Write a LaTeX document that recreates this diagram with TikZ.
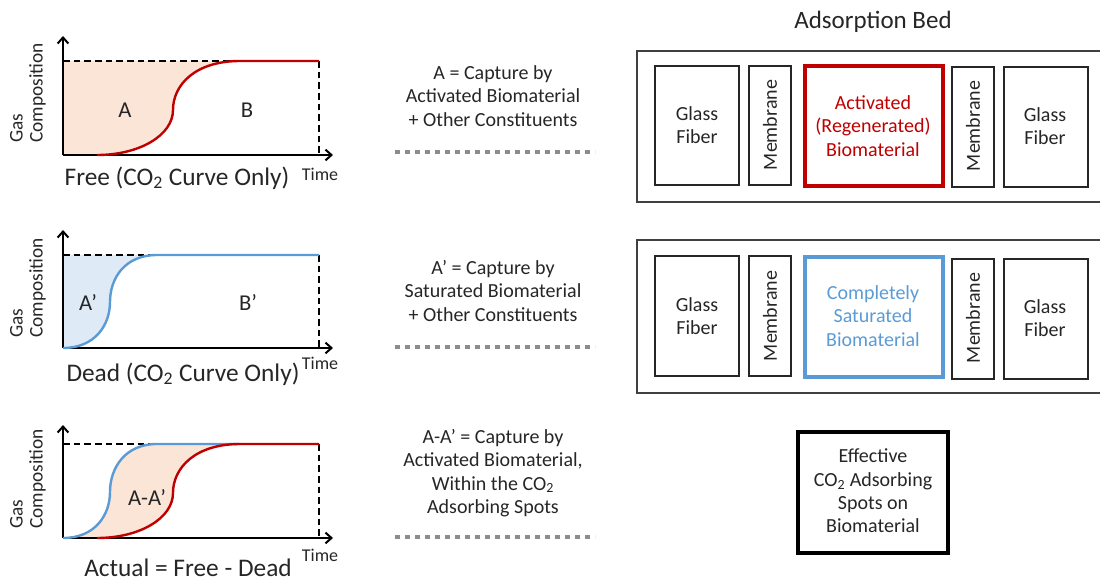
\documentclass[tikz,border=0pt]{standalone}
\usepackage{fontspec}
\setmainfont{Carlito}
\usetikzlibrary{arrows.meta}

\definecolor{freered}{RGB}{192,0,0}
\definecolor{deadblue}{RGB}{91,155,213}
\definecolor{freefill}{RGB}{251,229,214}
\definecolor{deadfill}{RGB}{222,235,247}
\definecolor{dotgray}{RGB}{140,140,140}
\definecolor{ink}{RGB}{38,38,38}

\begin{document}
\begin{tikzpicture}[x=0.75pt,y=0.75pt,yscale=-1,xscale=1,
	axis/.style={line width=1.5pt, -{Straight Barb[length=4.5pt,width=8pt,line width=1.5pt]}},
	guide/.style={line width=1.3pt, dash pattern=on 5pt off 3pt},
	freecurve/.style={freered, line width=1.8pt},
	deadcurve/.style={deadblue, line width=1.8pt},
	separator/.style={dotgray, line width=3.5pt, dash pattern=on 3.5pt off 4pt},
	bed/.style={black!75, line width=1.3pt},
	layer/.style={black!85, line width=1pt},
	txt/.style={inner sep=0.75pt, align=center, text=ink, font=\fontsize{15}{17.5}\selectfont},
	ylbl/.style={inner sep=0.75pt, align=left, rotate=90, text=ink, font=\fontsize{14.5}{15}\selectfont},
	tlbl/.style={inner sep=0.75pt, text=ink, font=\fontsize{13.5}{15}\selectfont},
	caption/.style={inner sep=0.75pt, text=ink, font=\fontsize{19}{21}\selectfont},
	area/.style={inner sep=0.75pt, text=ink, font=\fontsize{17}{18}\selectfont}]

\useasboundingbox (0,0) rectangle (1100,581);

%%%%%%%%%% Free curve plot
%Shape: Area A
\fill [freefill] (63,155) -- (63,61) -- (240,61) .. controls (195,61) and (173,85) .. (173,110) .. controls (173,135) and (140,155) .. (97,155) -- cycle ;
%Straight Lines
\draw [guide] (63,61) -- (240,61) ;
\draw [guide] (319,61) -- (319,155) ;
\draw [axis] (63,155) -- (333,155) ;
\draw [axis] (63,155) -- (63,36) ;
%Curve Lines
\draw [freecurve] (97,155) .. controls (140,155) and (173,135) .. (173,110) .. controls (173,85) and (195,61) .. (240,61) -- (319,61) ;
\node [area] (lblA) at (125,110) {A};
\node [area] (lblB) at (247,110) {B};
\node [ylbl] (gasA) at (28,93) {Gas\\Composition};
\node [caption] (capFree) at (177,178) {Free (CO\textsubscript{2} Curve Only)};
\node [tlbl] (timeA) at (320,174) {Time};

%%%%%%%%%% Dead curve plot
%Shape: Area A'
\fill [deadfill] (63,348) -- (63,255) -- (157,255) .. controls (125,255) and (110,278) .. (110,302) .. controls (110,325) and (95,348) .. (63,348) -- cycle ;
%Straight Lines
\draw [guide] (63,255) -- (157,255) ;
\draw [guide] (319,255) -- (319,348) ;
\draw [axis] (63,348) -- (333,348) ;
\draw [axis] (63,348) -- (63,230) ;
%Curve Lines
\draw [deadcurve] (63,348) .. controls (95,348) and (110,325) .. (110,302) .. controls (110,278) and (125,255) .. (157,255) -- (319,255) ;
\node [area] (lblAp) at (88,303) {A’};
\node [area] (lblBp) at (248,303) {B’};
\node [ylbl] (gasB) at (28,288) {Gas\\Composition};
\node [caption] (capDead) at (183,374) {Dead (CO\textsubscript{2} Curve Only)};
\node [tlbl] (timeB) at (320,363) {Time};

%%%%%%%%%% Actual curve plot
%Shape: Area A-A'
\fill [freefill] (63,538) .. controls (95,538) and (110,515) .. (110,492) .. controls (110,468) and (125,444) .. (157,444) -- (240,444) .. controls (195,444) and (173,468) .. (173,493) .. controls (173,518) and (140,538) .. (97,538) -- cycle ;
%Straight Lines
\draw [guide] (63,444) -- (157,444) ;
\draw [guide] (319,444) -- (319,538) ;
\draw [axis] (63,538) -- (333,538) ;
\draw [axis] (63,538) -- (63,425) ;
%Curve Lines
\draw [deadcurve] (63,538) .. controls (95,538) and (110,515) .. (110,492) .. controls (110,468) and (125,444) .. (157,444) -- (240,444) ;
\draw [freecurve] (97,538) .. controls (140,538) and (173,518) .. (173,493) .. controls (173,468) and (195,444) .. (240,444) -- (319,444) ;
\node [area] (lblAAp) at (147,498) {A-A’};
\node [ylbl] (gasC) at (28,479) {Gas\\Composition};
\node [caption] (capActual) at (188,568) {Actual = Free - Dead};
\node [tlbl] (timeC) at (320,555) {Time};

%%%%%%%%%% Middle column
\node [txt] (defA) at (493,96) {A = Capture by\\Activated Biomaterial\\+ Other Constituents};
\draw [separator] (395,152) -- (595,152) ;
\node [txt] (defAp) at (493,291) {A’ = Capture by\\Saturated Biomaterial\\+ Other Constituents};
\draw [separator] (395,347) -- (595,347) ;
\node [txt] (defAAp) at (493,473) {A-A’ = Capture by\\Activated Biomaterial,\\Within the CO\textsubscript{2}\\Adsorbing Spots};
\draw [separator] (395,537) -- (595,537) ;

%%%%%%%%%% Adsorption bed, activated
\node [inner sep=0.75pt, text=ink, font=\fontsize{18.75}{20}\selectfont] (bedTitle) at (873,22) {Adsorption Bed};
\draw [bed] (1102,51) -- (637,51) -- (637,202) -- (1102,202) ;
%Shape: Rectangle
\draw [layer] (655,66) rectangle (739,185) ;
\draw [layer] (749,66) rectangle (791,185) ;
\draw [freered, line width=2.6pt] (805,66) rectangle (943,186) ;
\draw [layer] (952,67) rectangle (994,187) ;
\draw [layer] (1004,67) rectangle (1088,187) ;
\node [txt] (fiberA) at (697,125) {Glass\\Fiber};
\node [txt, rotate=90] (membA) at (770,125) {Membrane};
\node [txt, text=freered] (bioA) at (873,126) {Activated\\(Regenerated)\\Biomaterial};
\node [txt, rotate=90] (membB) at (973,126) {Membrane};
\node [txt] (fiberB) at (1045,126) {Glass\\Fiber};

%%%%%%%%%% Adsorption bed, saturated
\draw [bed] (1102,240) -- (637,240) -- (637,393) -- (1102,393) ;
%Shape: Rectangle
\draw [layer] (655,256) rectangle (739,376) ;
\draw [layer] (749,256) rectangle (791,376) ;
\draw [deadblue, line width=2.6pt] (805,257) rectangle (943,377) ;
\draw [layer] (952,259) rectangle (994,379) ;
\draw [layer] (1004,259) rectangle (1088,379) ;
\node [txt] (fiberC) at (697,316) {Glass\\Fiber};
\node [txt, rotate=90] (membC) at (770,316) {Membrane};
\node [txt, text=deadblue] (bioB) at (873,316) {Completely\\Saturated\\Biomaterial};
\node [txt, rotate=90] (membD) at (973,318) {Membrane};
\node [txt] (fiberD) at (1045,318) {Glass\\Fiber};

%%%%%%%%%% Effective spots
\draw [black, line width=3pt] (798,432) rectangle (948,553) ;
\node [txt] (spots) at (873,491) {Effective\\CO\textsubscript{2} Adsorbing\\Spots on\\Biomaterial};

\end{tikzpicture}
\end{document}
